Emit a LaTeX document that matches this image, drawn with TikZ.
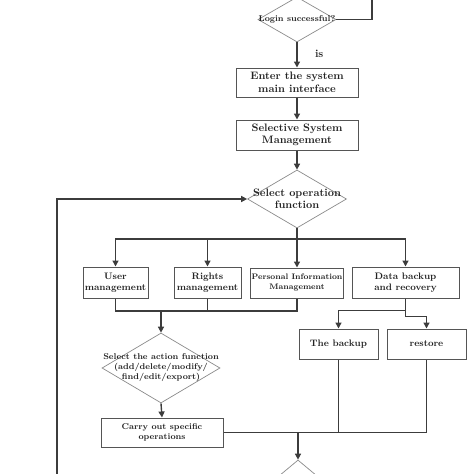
\documentclass[tikz,border=0pt]{standalone}
\usepackage{tikz}
\usetikzlibrary{shapes.geometric,arrows.meta}

\definecolor{linegray}{HTML}{3C3C3C}
\definecolor{boxgray}{HTML}{555555}
\definecolor{diagray}{HTML}{8A8A8A}
\definecolor{txtgray}{HTML}{222222}

\newcommand{\bigtxt}{\bfseries\fontsize{10.8}{12.5}\selectfont}
\newcommand{\midtxt}{\bfseries\fontsize{9.4}{11.3}\selectfont}
\newcommand{\smalltxt}{\bfseries\fontsize{8.4}{10}\selectfont}

\tikzset{
  box/.style={draw=boxgray, line width=1pt, rectangle, inner sep=0pt,
    align=center, text=txtgray, font=\midtxt},
  decision/.style={draw=diagray, line width=0.7pt, diamond, inner sep=0pt},
  dtext/.style={text=txtgray, align=center, inner sep=0pt},
  flow/.style={draw=linegray, line width=1.4pt},
  arr/.style={flow, -{Triangle[length=6pt,width=6pt]}},
}

\begin{document}
\begin{tikzpicture}[x=1pt, y=-1pt]
      \useasboundingbox (0,0) rectangle (474,474);
      \clip (0,0) rectangle (474,474);
      % login check
      \node[decision, minimum width=78pt, minimum height=45pt,
        label={[dtext, font=\smalltxt]center:Login successful?}] (login) at (297,19.5) {};
      \coordinate (back) at (372,-5);
      \draw[flow] (login.east) -| (back);
      % main interface
      \node[box, font=\bigtxt, minimum width=122pt, minimum height=29pt] (enter) at (297,82.5)
        {Enter the system\\main interface};
      \draw[arr] (login.south) -- (enter.north) node[pos=0.45, right=14pt, text=txtgray, font=\bigtxt] {is};
      \node[box, font=\bigtxt, minimum width=122pt, minimum height=30pt] (system) at (297,135)
        {Selective System\\Management};
      \draw[arr] (enter.south) -- (system.north);
      \node[decision, minimum width=99pt, minimum height=58pt,
        label={[dtext, font=\bigtxt]center:{Select operation\\function}}] (opfunc) at (297,199) {};
      \draw[arr] (system.south) -- (opfunc.north);
      % modules
      \node[box, minimum width=65pt, minimum height=31pt] (user) at (115.5,282.5) {User\\management};
      \node[box, minimum width=67pt, minimum height=31pt] (rights) at (207.5,282.5) {Rights\\management};
      \node[box, font=\bfseries\fontsize{8}{10}\selectfont, minimum width=93pt, minimum height=30pt] (pim) at (297,283)
        {Personal Information\\Management};
      \node[box, minimum width=107pt, minimum height=31pt] (data) at (405.5,282.5) {Data backup\\and recovery};
      \coordinate (split) at (297,239);
      \draw[flow] (opfunc.south) -- (split);
      \foreach \n in {user,rights,pim,data}
        \draw[arr] (split) -| (\n.north);
      % action
      \coordinate (merge) at (161,311);
      \foreach \n in {user,rights,pim}
        \draw[flow] (\n.south) |- (merge);
      \node[decision, minimum width=118pt, minimum height=70pt,
        label={[dtext, font=\smalltxt]center:{Select the action function\\(add/delete/modify/\\find/edit/export)}}]
        (action) at (161,368) {};
      \draw[arr] (merge) -- (action.north);
      \node[box, font=\smalltxt, minimum width=122pt, minimum height=29pt] (carry) at (162,432.5)
        {Carry out specific\\operations};
      \draw[arr] (action.south) -- (carry.north);
      % backup / restore
      \node[box, minimum width=79pt, minimum height=30pt] (backup) at (338.5,344) {The backup};
      \node[box, minimum width=79pt, minimum height=30pt] (restore) at (426.5,344) {restore};
      \draw[arr] (data.south) -- ++(0,12) -| (backup.north);
      \draw[arr] (data.south) -- ++(0,18) -| (restore.north);
      % end
      \draw[flow] (carry.east) -| (restore.south);
      \draw[flow] (backup.south) -- (backup.south |- carry.east);
      \node[decision, minimum width=72pt, minimum height=60pt] (finish) at (298,490) {};
      \coordinate (join) at (298,432.5);
      \draw[arr] (join) -- (finish.north);
      \coordinate (fb) at (57,199);
      \draw[arr] (finish.west) -| (fb) -- (opfunc.west);
    \end{tikzpicture}
\end{document}
